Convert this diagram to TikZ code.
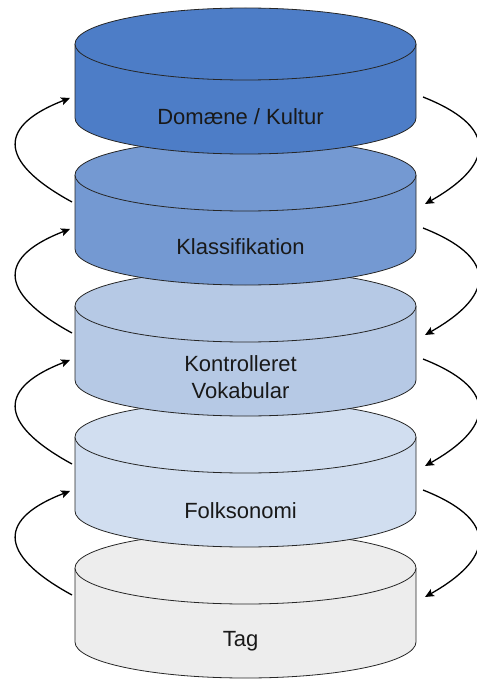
\documentclass[tikz,border=0pt]{standalone}
\usepackage{fontspec}
\setmainfont{Liberation Sans}
\usetikzlibrary{arrows.meta}
\definecolor{cA}{HTML}{4D7DC7}
\definecolor{cB}{HTML}{7499D2}
\definecolor{cC}{HTML}{B6C9E5}
\definecolor{cD}{HTML}{D1DEF0}
\definecolor{cE}{HTML}{EDEDED}
\tikzset{
  cyledge/.style={draw=black!85, line width=0.8pt},
  loopar/.style={line width=1.3pt, -{Stealth[length=9pt,width=8pt,inset=2pt]}},
  lbl/.style={font=\fontsize{22}{27}\selectfont, text=black!90, align=center},
}
% #1 = top centre y (px from top), #2 = colour
\newcommand{\mycyl}[2]{%
  \fill[#2] (75,-#1) -- (75,-#1-74) arc[start angle=180,end angle=360,x radius=170.5,y radius=36] -- (416,-#1) -- cycle;
  \draw[cyledge] (75,-#1) -- (75,-#1-74) arc[start angle=180,end angle=360,x radius=170.5,y radius=36] -- (416,-#1);
  \draw[cyledge, fill=#2] (245.5,-#1) ellipse[x radius=170.5, y radius=36];
}
\begin{document}
\begin{tikzpicture}[x=1pt,y=1pt]
\useasboundingbox (0,0) rectangle (476,-679);
\mycyl{568}{cE}
\mycyl{437}{cD}
\mycyl{306}{cC}
\mycyl{175}{cB}
\mycyl{44}{cA}
\node[lbl] (dom) at (240.5,-117) {Domæne / Kultur};
\node[lbl] (kla) at (240.5,-247) {Klassifikation};
\node[lbl] (kon) at (240.5,-377) {Kontrolleret\\Vokabular};
\node[lbl] (fol) at (240.5,-511) {Folksonomi};
\node[lbl] (tag) at (240.5,-641) {Tag};
\foreach \i/\n in {0/a,1/b,2/c,3/d}{
  \pgfmathsetmacro{\o}{131*\i}
  \coordinate (ls\n) at (72,-202-\o);
  \coordinate (lt\n) at (70,-98-\o);
  \coordinate (rs\n) at (423,-97-\o);
  \coordinate (rt\n) at (425,-204-\o);
  \draw[loopar] (ls\n) .. controls (-5,-160-\o) and (0,-125-\o) .. (lt\n);
  \draw[loopar] (rs\n) .. controls (494,-125-\o) and (499,-162-\o) .. (rt\n);
}
\end{tikzpicture}
\end{document}
